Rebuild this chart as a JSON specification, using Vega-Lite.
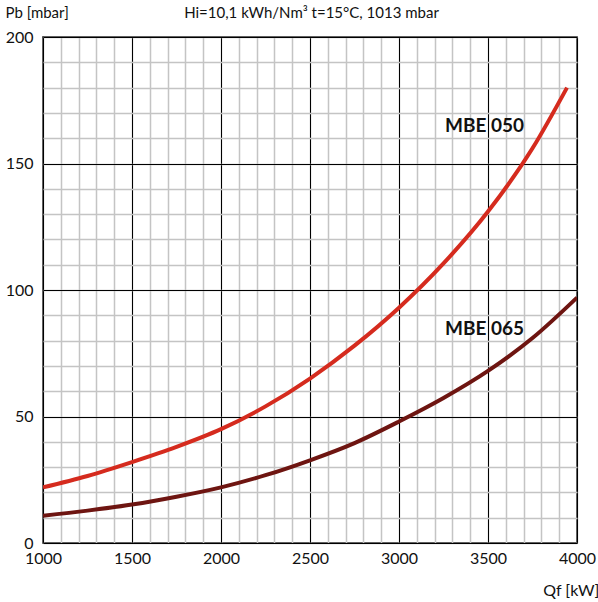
{
  "$schema": "https://vega.github.io/schema/vega-lite/v6.json",
  "width": 534,
  "height": 506,
  "autosize": {"type": "none"},
  "padding": {"left": 43, "top": 37, "right": 21, "bottom": 59},
  "background": "white",
  "config": {
    "font": "Lato",
    "view": {"stroke": "black", "strokeWidth": 1.5},
    "axis": {"labelFont": "Lato", "titleFont": "Lato", "labelFontSize": 16, "labelColor": "#111", "titleColor": "#111", "titleFontWeight": "normal", "titleFontSize": 15}
  },
  "datasets": {
    "curves": [
      {"qf": 1000, "pb": 22, "s": "MBE 050"},
      {"qf": 1250, "pb": 26.5, "s": "MBE 050"},
      {"qf": 1500, "pb": 32, "s": "MBE 050"},
      {"qf": 1750, "pb": 38, "s": "MBE 050"},
      {"qf": 2000, "pb": 45, "s": "MBE 050"},
      {"qf": 2250, "pb": 54, "s": "MBE 050"},
      {"qf": 2500, "pb": 65, "s": "MBE 050"},
      {"qf": 2750, "pb": 78, "s": "MBE 050"},
      {"qf": 3000, "pb": 93, "s": "MBE 050"},
      {"qf": 3250, "pb": 110.5, "s": "MBE 050"},
      {"qf": 3500, "pb": 131, "s": "MBE 050"},
      {"qf": 3750, "pb": 156, "s": "MBE 050"},
      {"qf": 3944, "pb": 180, "s": "MBE 050"},
      {"qf": 1000, "pb": 10.8, "s": "MBE 065"},
      {"qf": 1250, "pb": 12.8, "s": "MBE 065"},
      {"qf": 1500, "pb": 15.2, "s": "MBE 065"},
      {"qf": 1750, "pb": 18.3, "s": "MBE 065"},
      {"qf": 2000, "pb": 22, "s": "MBE 065"},
      {"qf": 2250, "pb": 26.8, "s": "MBE 065"},
      {"qf": 2500, "pb": 32.7, "s": "MBE 065"},
      {"qf": 2750, "pb": 39.5, "s": "MBE 065"},
      {"qf": 3000, "pb": 48, "s": "MBE 065"},
      {"qf": 3250, "pb": 57.3, "s": "MBE 065"},
      {"qf": 3500, "pb": 68, "s": "MBE 065"},
      {"qf": 3750, "pb": 81, "s": "MBE 065"},
      {"qf": 4000, "pb": 97, "s": "MBE 065"}
    ],
    "labels": [
      {"qf": 3258, "pb": 165, "t": "MBE 050"},
      {"qf": 3258, "pb": 84.5, "t": "MBE 065"}
    ]
  },
  "resolve": {"axis": {"x": "independent", "y": "independent"}},
  "layer": [
    {
      "data": {"name": "curves"},
      "transform": [{"filter": "datum.s === 'MBE 050'"}],
      "mark": {"type": "line", "strokeWidth": 4, "color": "#d52b1e", "interpolate": "monotone", "clip": true},
      "encoding": {
        "x": {"field": "qf", "type": "quantitative", "scale": {"domain": [1000, 4000], "nice": false},
          "axis": {"orient": "bottom", "values": [1000,1100,1200,1300,1400,1500,1600,1700,1800,1900,2000,2100,2200,2300,2400,2500,2600,2700,2800,2900,3000,3100,3200,3300,3400,3500,3600,3700,3800,3900,4000], "grid": true, "gridColor": "#c4c4c4", "gridWidth": 1.5, "gridOpacity": 1, "labels": false, "ticks": false, "domain": false, "title": null}},
        "y": {"field": "pb", "type": "quantitative", "scale": {"domain": [0, 200], "nice": false},
          "axis": {"orient": "left", "values": [0,10,20,30,40,50,60,70,80,90,100,110,120,130,140,150,160,170,180,190,200], "grid": true, "gridColor": "#c4c4c4", "gridWidth": 1.5, "gridOpacity": 1, "labels": false, "ticks": false, "domain": false,
            "title": "Hi=10,1 kWh/Nm³  t=15°C, 1013 mbar", "titleAngle": 0, "titleAlign": "center", "titleAnchor": null, "titleX": 268, "titleY": -25, "titleBaseline": "middle"}}
      }
    },
    {
      "data": {"name": "curves"},
      "transform": [{"filter": "datum.s === 'MBE 065'"}],
      "mark": {"type": "line", "strokeWidth": 4, "color": "#6e1511", "interpolate": "monotone", "clip": true},
      "encoding": {
        "x": {"field": "qf", "type": "quantitative", "scale": {"domain": [1000, 4000], "nice": false},
          "axis": {"orient": "bottom", "values": [1000,1500,2000,2500,3000,3500,4000], "format": "d", "grid": true, "gridColor": "#000", "gridWidth": 1, "gridOpacity": 1, "ticks": false, "tickSize": 0, "domain": false, "labelPadding": 15, "labelBaseline": "middle", "labelAlign": "center",
            "title": "Qf [kW]", "titleAlign": "right", "titleAnchor": null, "titleX": 556, "titleY": 47, "titleBaseline": "middle", "titleFontSize": 16}},
        "y": {"field": "pb", "type": "quantitative", "scale": {"domain": [0, 200], "nice": false},
          "axis": {"orient": "left", "values": [0,50,100,150,200], "format": "d", "grid": true, "gridColor": "#000", "gridWidth": 1, "gridOpacity": 1, "ticks": false, "tickSize": 0, "domain": false, "labelPadding": 10, "labelBaseline": "middle",
            "title": "Pb [mbar]", "titleAngle": 0, "titleAlign": "left", "titleAnchor": null, "titleX": -38, "titleY": -25, "titleBaseline": "middle"}}
      }
    },
    {
      "data": {"name": "labels"},
      "mark": {"type": "text", "fontSize": 19, "fontWeight": "bold", "font": "Lato", "align": "left", "baseline": "middle", "color": "#111"},
      "encoding": {
        "x": {"field": "qf", "type": "quantitative", "axis": null},
        "y": {"field": "pb", "type": "quantitative", "axis": null},
        "text": {"field": "t"}
      }
    }
  ]
}
